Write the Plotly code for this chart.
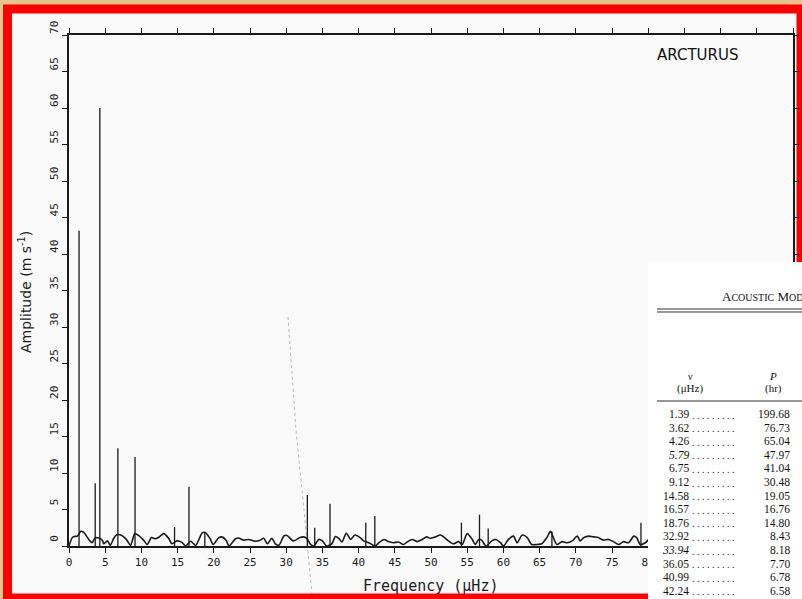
import plotly.graph_objects as go

# Mode peaks: frequency (microhertz) and amplitude (m/s)
spike_freq = [1.39, 3.62, 4.26, 6.75, 9.12, 14.58, 16.57, 18.76, 32.92, 33.94,
              36.05, 40.99, 42.24, 54.2, 56.7, 57.9, 66.7, 79.0]
spike_amp = [43.2, 8.6, 60.0, 13.4, 12.2, 2.6, 8.1, 1.9, 7.0, 2.5,
             5.8, 3.2, 4.1, 3.2, 4.3, 2.4, 2.0, 3.2]

# Underlying amplitude spectrum
noise_freq = [0.0, 0.5, 1.2, 1.6, 2.0, 2.8, 3.2, 3.6, 4.1, 4.6,
              4.8, 5.3, 5.7, 6.2, 6.6, 7.3, 8.0, 8.5, 9.1, 9.6,
              10.3, 10.8, 11.4, 11.9, 12.4, 13.1, 13.8, 14.2, 14.9, 15.6,
              16.1, 16.8, 17.5, 18.4, 18.8, 19.5, 19.9, 20.7, 21.1, 21.7,
              22.1, 23.0, 23.4, 24.1, 24.8, 25.7, 26.4, 26.9, 27.4, 28.0,
              28.5, 29.0, 29.7, 30.1, 31.0, 31.9, 32.4, 32.9, 33.3, 33.8,
              34.5, 35.0, 35.6, 36.3, 36.8, 37.3, 37.7, 38.3, 38.9, 39.5,
              40.2, 40.7, 41.4, 42.3, 42.8, 43.5, 44.1, 44.8, 45.5, 46.2,
              46.7, 47.4, 48.1, 48.8, 49.4, 49.9, 50.6, 51.3, 52.0, 52.4,
              53.1, 53.8, 54.3, 55.0, 55.7, 56.1, 56.6, 57.0, 57.6, 58.4,
              58.9, 59.6, 60.0, 60.7, 61.4, 61.9, 62.6, 63.3, 63.9, 64.6,
              65.3, 66.0, 66.5, 66.9, 67.4, 68.1, 68.8, 69.5, 70.2, 70.6,
              71.1, 71.8, 72.5, 73.1, 73.8, 74.5, 75.2, 75.9, 76.6, 77.3,
              78.0, 78.4, 78.9, 79.6, 80.3]
noise_amp = [0.0, 1.2, 1.4, 2.0, 1.9, 0.8, 0.45, 1.1, 1.1, 0.8,
             0.3, 0.7, 0.1, 1.1, 1.55, 1.45, 0.8, 0.1, 1.7, 1.45,
             0.8, 0.2, 1.15, 1.0, 1.2, 1.7, 1.0, 0.3, 0.7, 0.5,
             0.0, 0.65, 0.1, 1.8, 1.85, 1.0, 0.2, 1.15, 1.25, 0.8,
             0.0, 1.0, 1.1, 0.8, 0.9, 0.65, 0.8, 1.05, 0.3, 1.05,
             0.3, 0.1, 1.4, 1.45, 0.7, 1.15, 1.25, 1.0, 0.3, 0.0,
             0.9, 0.7, 0.0, 0.3, 1.3, 1.0, 0.55, 1.75, 0.9, 1.5,
             1.15, 0.7, 0.45, 0.0, 0.45, 0.9, 0.6, 0.45, 0.55, 0.2,
             0.55, 0.9, 0.6, 0.9, 1.25, 1.05, 1.25, 1.5, 1.05, 0.7,
             0.3, 0.6, 0.2, 1.7, 0.9, 0.2, 0.9, 0.8, 0.0, 0.7,
             0.9, 0.45, 0.0, 0.9, 1.35, 0.45, 1.5, 1.15, 0.2, 0.2,
             0.3, 1.15, 2.0, 1.15, 0.2, 0.6, 0.45, 0.7, 1.35, 0.7,
             1.15, 1.35, 1.25, 1.15, 0.8, 0.9, 0.6, 0.2, 0.6, 0.45,
             1.35, 1.15, 0.2, 0.45, 1.15]

# Acoustic mode table
table_nu = ["1.39", "3.62", "4.26", "5.79", "6.75", "9.12", "14.58", "16.57",
            "18.76", "32.92", "33.94", "36.05", "40.99", "42.24"]
table_period = ["199.68", "76.73", "65.04", "47.97", "41.04", "30.48", "19.05",
                "16.76", "14.80", "8.43", "8.18", "7.70", "6.78", "6.58"]
table_italic = [False, False, False, True, False, False, False, False,
                False, False, True, False, False, False]

x_ticks = list(range(0, 101, 5))
x_labels = [str(v) if v <= 80 else "" for v in x_ticks]
y_ticks = list(range(0, 71, 5))

# Page and plot-area geometry (pixels)
PAGE_W, PAGE_H = 802, 599
L, R, T, B = 69, 793, 35, 546


def px(xp):
    return (xp - L) / (R - L)


def py(yp):
    return (B - yp) / (B - T)


INK = "#1a1a1a"
RED = "#ff0000"
WOOD = "#e6c48b"
PAPER = "#fafafa"

# Vertical lines for each mode peak
spike_x, spike_y = [], []
for f, a in zip(spike_freq, spike_amp):
    spike_x += [f, f, None]
    spike_y += [0, a, None]

fig = go.Figure()
fig.add_trace(go.Scatter(
    x=noise_freq, y=noise_amp, mode="lines",
    line=dict(color=INK, width=1.6, shape="spline", smoothing=0.7),
    hoverinfo="skip", showlegend=False))
fig.add_trace(go.Scatter(
    x=spike_x, y=spike_y, mode="lines",
    line=dict(color=INK, width=1.3),
    hoverinfo="skip", showlegend=False))

axis_common = dict(
    showgrid=False, zeroline=False, showline=True, linecolor=INK, linewidth=1.5,
    ticks="outside", ticklen=5, tickwidth=1.2, tickcolor=INK, mirror="ticks",
    tickfont=dict(family="DejaVu Sans Mono", size=11, color=INK),
)

fig.update_xaxes(range=[0, 100], tickvals=x_ticks, ticktext=x_labels,
                 **axis_common)
fig.update_yaxes(range=[0, 70], tickvals=y_ticks,
                 ticktext=[str(v) for v in y_ticks], tickangle=-90,
                 ticklabelshift=-6, **axis_common)

shapes = [
    # red frame on the wooden backdrop
    dict(type="rect", xref="paper", yref="paper", layer="below",
         x0=px(7.5), x1=px(801), y0=py(9), y1=py(598),
         line=dict(color=RED, width=9), fillcolor=PAPER),
    # faint hair streak across the scan
    dict(type="path", xref="paper", yref="paper", layer="below",
         path=f"M {px(288)} {py(317)} L {px(296)} {py(430)} "
              f"L {px(303)} {py(500)} L {px(312)} {py(594)}",
         line=dict(color="rgba(80,80,80,0.4)", width=1, dash="dot")),
    # table sheet
    dict(type="rect", xref="paper", yref="paper", layer="above",
         x0=px(648), x1=px(812), y0=py(262), y1=py(612),
         line=dict(width=0), fillcolor="#ffffff"),
]
for yy in (309, 312, 401):
    shapes.append(dict(type="line", xref="paper", yref="paper", layer="above",
                       x0=px(657), x1=px(812), y0=py(yy), y1=py(yy),
                       line=dict(color="#333333", width=1.1)))

serif = dict(family="Liberation Serif", color="#111111")


def note(text, xp, yp, size, family=None, xanchor="center", angle=0, **font):
    f = dict(size=size, **font)
    if family:
        f["family"] = family
    return dict(text=text, x=px(xp), y=py(yp), xref="paper", yref="paper",
                xanchor=xanchor, yanchor="middle", showarrow=False,
                textangle=angle, font=f)


annotations = [
    note("ARCTURUS", 697, 55, 15, "DejaVu Sans", color="#111111"),
    note("Frequency (\u03bcHz)", 430, 586, 15, "DejaVu Sans Mono", color=INK),
    note("Amplitude (m s<sup>-1</sup>)", 25, 292, 14, "DejaVu Sans",
         angle=-90, color=INK),
    note("A<span style='font-size:10px'>COUSTIC</span> "
         "M<span style='font-size:10px'>ODES</span>",
         720, 296, 13, xanchor="left", **serif),
    note("\u03bd", 690, 376, 10, **serif),
    note("(\u03bcHz)", 690, 388, 11, **serif),
    note("<i>P</i>", 773, 376, 11, **serif),
    note("(hr)", 773, 388, 11, **serif),
]

ROW0, ROW_STEP = 414, 13.6
for i, (nu, per, ital) in enumerate(zip(table_nu, table_period, table_italic)):
    yrow = ROW0 + i * ROW_STEP
    label = f"<i>{nu}</i>" if ital else nu
    annotations.append(note(label, 690.5, yrow, 11.5, xanchor="right", **serif))
    annotations.append(note(". " * 9, 690, yrow + 1, 10, xanchor="left", **serif))
    annotations.append(note(per, 792, yrow, 11.5, xanchor="right", **serif))

fig.update_layout(
    width=PAGE_W, height=PAGE_H,
    margin=dict(l=L, r=PAGE_W - R, t=T, b=PAGE_H - B, autoexpand=False),
    paper_bgcolor=WOOD, plot_bgcolor="rgba(0,0,0,0)",
    shapes=shapes, annotations=annotations, showlegend=False,
)

fig.write_html("out.html")
